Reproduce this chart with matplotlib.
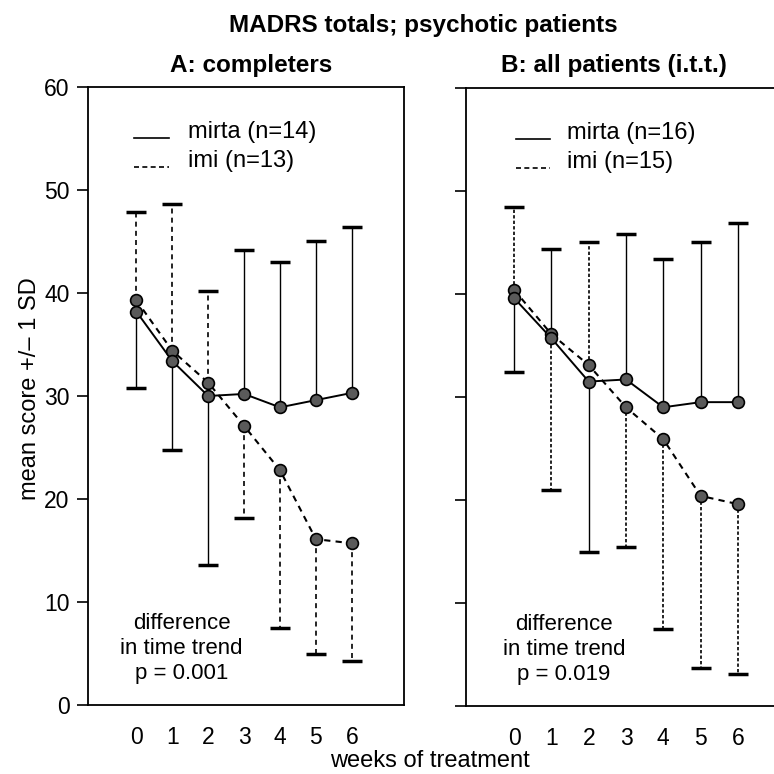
import matplotlib
matplotlib.use("Agg")
import matplotlib.pyplot as plt

plt.rcParams["font.family"] = ["Liberation Sans", "DejaVu Sans"]

weeks = [0, 1, 2, 3, 4, 5, 6]
tick_labels = ["0", "1", "2", "3", "4", "5", "6"]

# panel A: completers
a_mirta = [38.2, 33.4, 30.0, 30.2, 28.9, 29.6, 30.3]
a_imi = [39.3, 34.4, 31.3, 27.1, 22.8, 16.1, 15.7]
a_mirta_bar = [30.8, 24.8, 13.6, 44.2, 43.0, 45.0, 46.4]   # end of +/- 1 SD whisker
a_imi_bar = [47.9, 48.6, 40.2, 18.2, 7.5, 5.0, 4.3]

# panel B: all patients (i.t.t.)
b_mirta = [39.6, 35.7, 31.5, 31.7, 29.0, 29.5, 29.5]
b_imi = [40.4, 36.1, 33.1, 29.0, 25.9, 20.4, 19.6]
b_mirta_bar = [32.4, 44.4, 15.0, 45.8, 43.4, 45.0, 46.9]
b_imi_bar = [48.4, 21.0, 45.0, 15.4, 7.5, 3.7, 3.1]

FS = 17

fig = plt.figure(figsize=(7.74, 7.74), dpi=100)
axA = fig.add_axes([87.5 / 774, 69 / 774, 316 / 774, 618 / 774])
axB = fig.add_axes([466 / 774, 68 / 774, 320 / 774, 618 / 774])


def draw_panel(ax, mirta, imi, mirta_bar, imi_bar, imi_dash, leg, ltext, ptext):
    # whiskers
    ax.vlines(weeks, mirta, mirta_bar, colors="black", lw=1.0, zorder=1)
    ax.vlines(weeks, imi, imi_bar, colors="black", lw=1.2,
              linestyles=[imi_dash], zorder=1)
    ax.plot(weeks, mirta_bar, ls="none", marker="_", ms=15, mew=2.5,
            color="black", zorder=1)
    ax.plot(weeks, imi_bar, ls="none", marker="_", ms=15, mew=2.5,
            color="black", zorder=1)
    # means
    ax.plot(weeks, mirta, "-", color="black", lw=1.4, zorder=2)
    ax.plot(weeks, imi, color="black", lw=1.5, ls=(0, (3, 2.5)), zorder=2)
    for vals in (imi, mirta):
        ax.plot(weeks, vals, ls="none", marker="o", ms=8.5,
                mfc="#5a5a5a", mec="black", mew=1.2, zorder=3)

    # legend drawn by hand
    x0, x1, xt = leg
    ax.plot([x0, x1], [0.917, 0.917], "-", color="black", lw=1.2,
            transform=ax.transAxes)
    ax.plot([x0, x1], [0.870, 0.870], color="black", lw=1.2,
            ls=(0, (3, 2)), transform=ax.transAxes)
    ax.text(xt, 0.917, ltext[0], transform=ax.transAxes, fontsize=FS,
            va="baseline")
    ax.text(xt, 0.870, ltext[1], transform=ax.transAxes, fontsize=FS,
            va="baseline")

    # p-value note
    xc = ptext[0]
    for line, yb in zip(ptext[1:], (0.1226, 0.0823, 0.0419)):
        ax.text(xc, yb, line, transform=ax.transAxes, ha="center",
                va="baseline", fontsize=16)

    ax.set_ylim(0, 60)
    ax.set_yticks([0, 10, 20, 30, 40, 50, 60])
    ax.set_xticks(weeks)
    ax.set_xticklabels(tick_labels)
    ax.tick_params(axis="x", length=0, pad=15, labelsize=16.5)
    ax.tick_params(axis="y", direction="out", length=8, width=1.2,
                   labelsize=16.5, pad=5)
    for s in ax.spines.values():
        s.set_linewidth(1.3)


draw_panel(axA, a_mirta, a_imi, a_mirta_bar, a_imi_bar, (0, (3, 2.5)),
           (0.148, 0.259, 0.318), ("mirta (n=14)", "imi (n=13)"),
           (0.2975, "difference", "in time trend", "p = 0.001"))
axA.set_xlim(-1.36, 7.44)

draw_panel(axB, b_mirta, b_imi, b_mirta_bar, b_imi_bar, (0, (2, 1.3)),
           (0.156, 0.263, 0.316), ("mirta (n=16)", "imi (n=15)"),
           (0.306, "difference", "in time trend", "p = 0.019"))
axB.set_xlim(-1.29, 7.29)
axB.set_yticklabels([])

fig.text(423 / 774, 1 - 32 / 774, "MADRS totals; psychotic patients",
         ha="center", va="baseline", fontsize=17.5, fontweight="bold")
fig.text(251 / 774, 1 - 72 / 774, "A: completers", ha="center",
         va="baseline", fontsize=17.5, fontweight="bold")
fig.text(614 / 774, 1 - 72 / 774, "B: all patients (i.t.t.)", ha="center",
         va="baseline", fontsize=17.5, fontweight="bold")
fig.text(36 / 774, 1 - 389 / 774, "mean score +/\u2013 1 SD", rotation=90,
         rotation_mode="anchor", ha="center", va="baseline", fontsize=FS)
fig.text(430 / 774, 1 - 767 / 774, "weeks of treatment", ha="center",
         va="baseline", fontsize=17)

fig.savefig("out.png", dpi=100)
